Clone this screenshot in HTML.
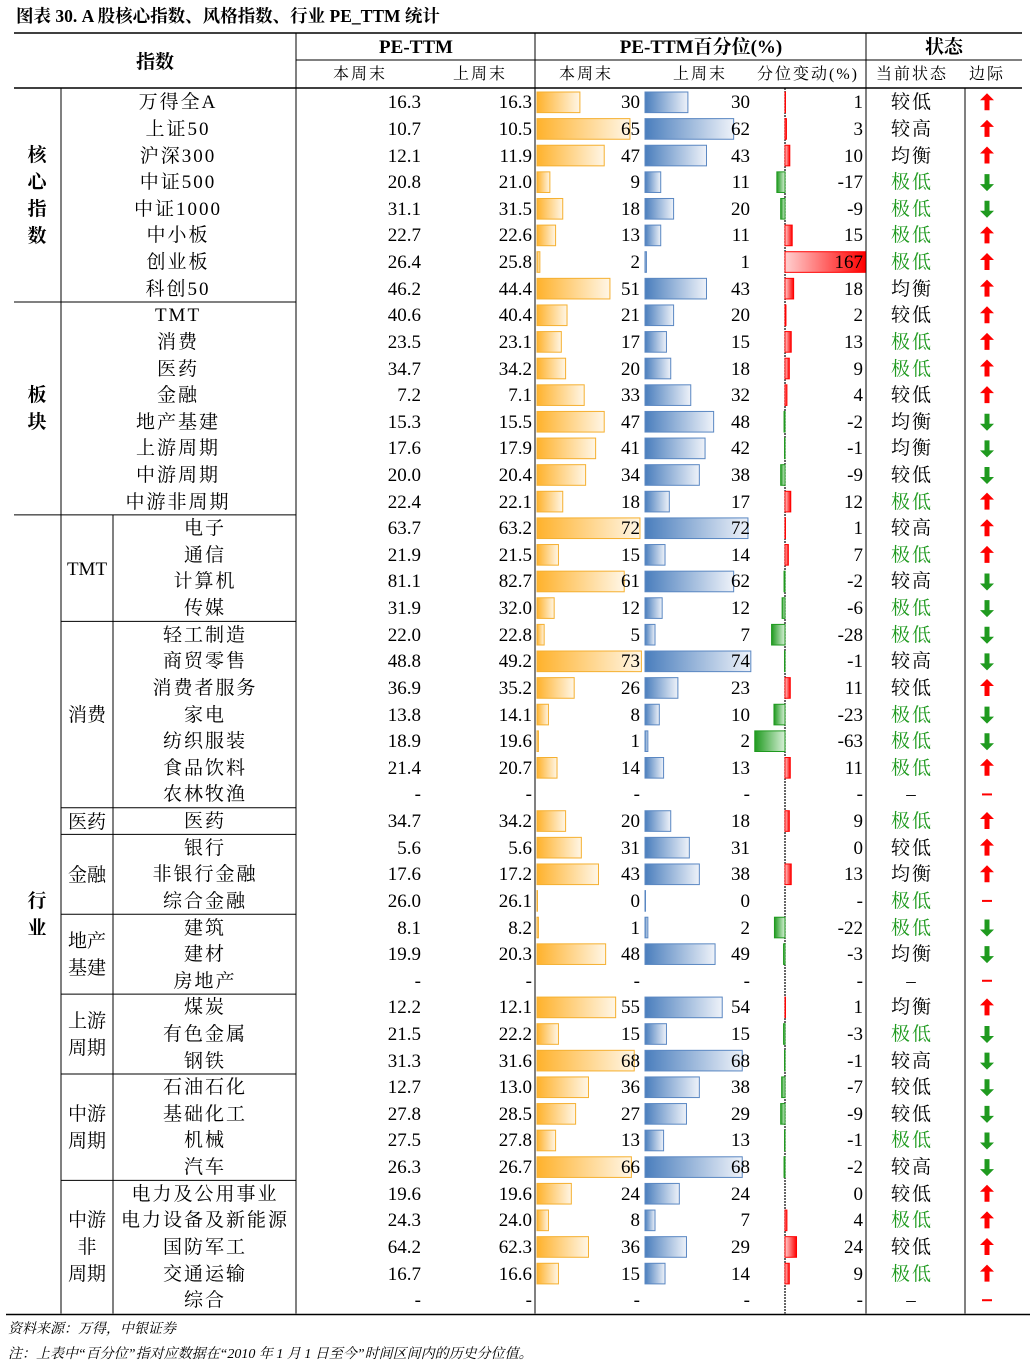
<!DOCTYPE html>
<html><head><meta charset="utf-8">
<style>
body{margin:0;background:#fff;width:1036px;height:1368px;position:relative;overflow:hidden;font-family:"Liberation Serif","Noto Serif CJK SC",serif;color:#000}
.t{position:absolute;white-space:nowrap;line-height:26px;font-size:19px}
.ln{position:absolute;background:#000}
</style></head><body>
<div class="t" style="left:16px;top:3px;font-weight:bold;font-size:17.5px;font-family:'Liberation Serif','Noto Serif CJK SC',serif">图表 30. A 股核心指数、风格指数、行业 PE_TTM 统计</div>
<svg id="svg" width="1036" height="1368" style="position:absolute;left:0;top:0"></svg>
<div id="txt"></div>
<div class="t" style="left:8px;top:1317px;font-size:14px;font-style:italic">资料来源：万得，中银证券</div>
<div class="t" style="left:8px;top:1342px;font-size:14px;font-style:italic">注：上表中“百分位”指对应数据在“2010 年 1 月 1 日至今”时间区间内的历史分位值。</div>
<script>
const names=["万得全A","上证50","沪深300","中证500","中证1000","中小板","创业板","科创50","TMT","消费","医药","金融","地产基建","上游周期","中游周期","中游非周期","电子","通信","计算机","传媒","轻工制造","商贸零售","消费者服务","家电","纺织服装","食品饮料","农林牧渔","医药","银行","非银行金融","综合金融","建筑","建材","房地产","煤炭","有色金属","钢铁","石油石化","基础化工","机械","汽车","电力及公用事业","电力设备及新能源","国防军工","交通运输","综合"];
const peNow=["16.3","10.7","12.1","20.8","31.1","22.7","26.4","46.2","40.6","23.5","34.7","7.2","15.3","17.6","20.0","22.4","63.7","21.9","81.1","31.9","22.0","48.8","36.9","13.8","18.9","21.4","-","34.7","5.6","17.6","26.0","8.1","19.9","-","12.2","21.5","31.3","12.7","27.8","27.5","26.3","19.6","24.3","64.2","16.7","-"];
const pePrev=["16.3","10.5","11.9","21.0","31.5","22.6","25.8","44.4","40.4","23.1","34.2","7.1","15.5","17.9","20.4","22.1","63.2","21.5","82.7","32.0","22.8","49.2","35.2","14.1","19.6","20.7","-","34.2","5.6","17.2","26.1","8.2","20.3","-","12.1","22.2","31.6","13.0","28.5","27.8","26.7","19.6","24.0","62.3","16.6","-"];
const pctNow=[30,65,47,9,18,13,2,51,21,17,20,33,47,41,34,18,72,15,61,12,5,73,26,8,1,14,null,20,31,43,0,1,48,null,55,15,68,36,27,13,66,24,8,36,15,null];
const pctPrev=[30,62,43,11,20,11,1,43,20,15,18,32,48,42,38,17,72,14,62,12,7,74,23,10,2,13,null,18,31,38,0,2,49,null,54,15,68,38,29,13,68,24,7,29,14,null];
const chg=[1,3,10,-17,-9,15,167,18,2,13,9,4,-2,-1,-9,12,1,7,-2,-6,-28,-1,11,-23,-63,11,null,9,0,13,null,-22,-3,null,1,-3,-1,-7,-9,-1,-2,0,4,24,9,null];
const status=["较低","较高","均衡","极低","极低","极低","极低","均衡","较低","极低","极低","较低","均衡","均衡","较低","极低","较高","极低","较高","极低","极低","较高","较低","极低","极低","极低","–","极低","较低","均衡","极低","极低","均衡","–","均衡","极低","较高","较低","较低","极低","较高","较低","极低","较低","极低","–"];
const dir=["u","u","u","d","d","u","u","u","u","u","u","u","d","d","d","u","u","u","d","d","d","d","u","d","d","u","-","u","u","u","-","d","d","-","u","d","d","d","d","d","d","u","u","u","u","-"];
const groups=[["核心指数",0,8],["板块",8,8],["行业",16,30]];
const subgroups=[["TMT",16,4],["消费",20,7],["医药",27,1],["金融",28,3],["地产\n基建",31,3],["上游\n周期",34,3],["中游\n周期",37,4],["中游\n非\n周期",41,5]];

const svg=document.getElementById('svg'),txt=document.getElementById('txt');
const NS='http://www.w3.org/2000/svg';
const Y0=89,RH=26.62;
const rowTop=i=>Y0+i*RH;
const xPct=v=>v*1.43, xChg=v=>v*0.48, ZERO=785;
function el(tag,attrs,name){const e=document.createElementNS(NS,tag);for(const k in attrs)e.setAttribute(k,attrs[k]);


svg.appendChild(e);return e;}
function line(x1,y1,x2,y2,w,name){el('line',{x1,y1,x2,y2,stroke:'#000','stroke-width':w||1},name||'grid-line');}
function text(s,x,y,opts,name){const d=document.createElement('div');d.className='t';d.textContent=s;


let st='top:'+(y-12)+'px;';
if(opts.align==='right')st+='right:'+(1036-x)+'px;';else if(opts.align==='center'){st+='left:'+(x-150)+'px;width:300px;text-align:center;';}else st+='left:'+x+'px;';
if(opts.bold)st+='font-weight:bold;';if(opts.color)st+='color:'+opts.color+';';if(opts.size)st+='font-size:'+opts.size+'px;';if(opts.ls)st+='letter-spacing:'+opts.ls+'px;';if(opts.lh)st+='line-height:'+opts.lh+'px;';
d.style.cssText=st;txt.appendChild(d);return d;}
const defs=el('defs',{},'gradients');
defs.innerHTML='<linearGradient id="go"><stop offset="0" stop-color="#ffb22c"/><stop offset="1" stop-color="#fff6e6"/></linearGradient><linearGradient id="gb"><stop offset="0" stop-color="#4a7ebd"/><stop offset="1" stop-color="#eef2f9"/></linearGradient><linearGradient id="gr" x1="1" x2="0"><stop offset="0" stop-color="#ff0000"/><stop offset="1" stop-color="#ffd0d0"/></linearGradient><linearGradient id="gg"><stop offset="0" stop-color="#1f9a1f"/><stop offset="1" stop-color="#d8f0d8"/></linearGradient>';
line(14,33,1022,33,1.5,'header-top-line');
line(296,60,1022,60,1,'header-mid-line');
line(14,88,1022,88,1.5,'header-bottom-line');
[296,535,866].forEach(x=>line(x,33,x,88,1,'header-divider'));
text('指数',155,62,{align:'center',bold:true},'header-index');
text('PE-TTM',416,47,{align:'center',bold:true},'header-pe-ttm');
text('PE-TTM百分位(%)',701,47,{align:'center',bold:true},'header-percentile');
text('状态',944,47,{align:'center',bold:true},'header-status');
[['本周末',360,'pe-this-week'],['上周末',480,'pe-last-week'],['本周末',586,'pct-this-week'],['上周末',700,'pct-last-week'],['分位变动(%)',808,'pct-change'],['当前状态',912,'current-status'],['边际',987,'marginal']].forEach(h=>text(h[0],h[1],74,{align:'center',size:16,ls:2},'subheader-'+h[2]));
const Yend=rowTop(46);
[296,535,866].forEach(x=>line(x,88,x,Yend,1,'column-divider'));
line(965,88,965,Yend,1,'column-divider');
line(61,88,61,Yend,1,'group-divider');
line(113,rowTop(16),113,Yend,1,'subgroup-divider');
el('line',{x1:ZERO,y1:88,x2:ZERO,y2:Yend,stroke:'#000','stroke-width':1.2,'stroke-dasharray':'2,1'},'zero-line');
line(6,Yend+1,1030,Yend+1,1.5,'table-bottom-line');
groups.forEach((g,k)=>{const y=rowTop(g[1]),h=g[2]*RH;
 if(k>0)line(14,y,296,y,1,'group-separator');
 const d=text(g[0].split('').join('\n'),37,y+h/2,{align:'center',bold:true,lh:27},'group-label');d.style.whiteSpace='pre';d.style.top=(y+h/2-g[0].length*13.5+1)+'px';});
subgroups.forEach((g,k)=>{const y=rowTop(g[1]),h=g[2]*RH;
 if(k>0)line(61,y,296,y,1,'subgroup-separator');
 const n=g[0].split('\n').length;const d=text(g[0],87,y+h/2,{align:'center',lh:27},'subgroup-label');d.style.whiteSpace='pre';d.style.top=(y+h/2-n*13.5+1)+'px';});
names.forEach((nm,i)=>{const t=rowTop(i),c=t+RH/2;
 const nx=i<16?178:205;
 text(nm,nx,c,{align:'center',ls:2},'row-name');
 text(peNow[i],421,c,{align:'right'},'pe-this-week-value');
 text(pePrev[i],532,c,{align:'right'},'pe-last-week-value');
 if(pctNow[i]!==null){el('rect',{x:537,y:t+3,width:Math.max(xPct(pctNow[i]),0.5),height:RH-6,fill:'url(#go)',stroke:'#f5b030','stroke-width':1},'bar-pct-this-week');}
 if(pctPrev[i]!==null){el('rect',{x:645,y:t+3,width:Math.max(xPct(pctPrev[i]),0.5),height:RH-6,fill:'url(#gb)',stroke:'#5a87c2','stroke-width':1},'bar-pct-last-week');}
 text(pctNow[i]===null?'-':String(pctNow[i]),640,c,{align:'right'},'pct-this-week-value');
 text(pctPrev[i]===null?'-':String(pctPrev[i]),750,c,{align:'right'},'pct-last-week-value');
 const v=chg[i];
 if(v!==null&&v!==0){const w=xChg(Math.abs(v));
  if(v>0)el('rect',{x:ZERO,y:t+3,width:w,height:RH-6,fill:'url(#gr)',stroke:'#ff0000','stroke-width':1},'bar-pct-change');
  else el('rect',{x:ZERO-w,y:t+3,width:w,height:RH-6,fill:'url(#gg)',stroke:'#1f9a1f','stroke-width':1},'bar-pct-change');}
 text(v===null?'-':String(v),863,c,{align:'right'},'pct-change-value');
 text(status[i],912,c,{align:'center',color:status[i]==='极低'?'#1f9a1f':'#000',ls:2},'status-value');
 if(dir[i]==='u')el('path',{d:`M987 ${c-9} L994 ${c-2} L989.5 ${c-2} L989.5 ${c+8} L984.5 ${c+8} L984.5 ${c-2} L980 ${c-2} Z`,fill:'#ff0000'},'arrow-up');
 else if(dir[i]==='d')el('path',{d:`M987 ${c+9} L994 ${c+2} L989.5 ${c+2} L989.5 ${c-8} L984.5 ${c-8} L984.5 ${c+2} L980 ${c+2} Z`,fill:'#1f9a1f'},'arrow-down');
 else el('rect',{x:982,y:c-1,width:10,height:2,fill:'#ff0000'},'dash-marker');
});
</script>
</body></html>
